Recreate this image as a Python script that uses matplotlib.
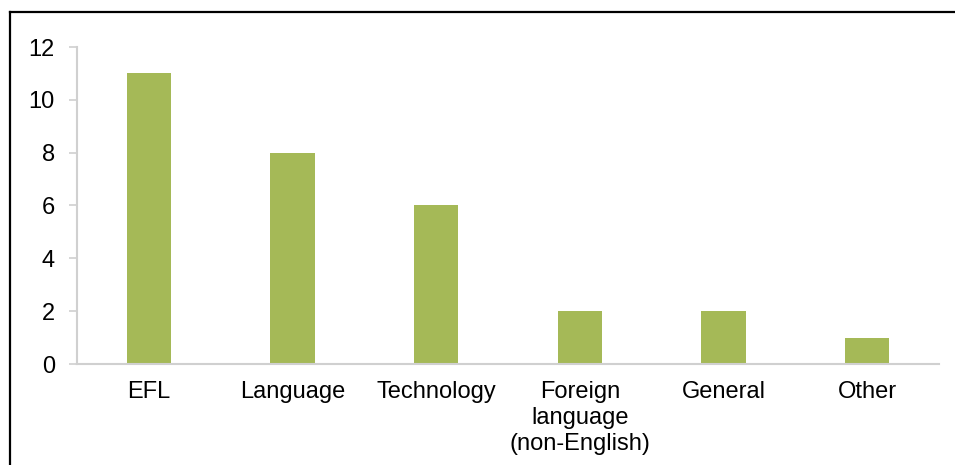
import matplotlib.pyplot as plt
from matplotlib.lines import Line2D

categories = ["EFL", "Language", "Technology", "Foreign\nlanguage\n(non-English)", "General", "Other"]
counts = [11, 8, 6, 2, 2, 1]

plt.rcParams['font.family'] = ['Liberation Sans', 'DejaVu Sans']

W, H = 955, 465
fig = plt.figure(figsize=(W / 100, H / 100), dpi=100)
ax = fig.add_axes([77 / W, 101 / H, (939 - 77) / W, (418 - 101) / H])

x = range(len(categories))
ax.bar(x, counts, width=0.31, color="#a5b957", zorder=2)

ax.set_xlim(-0.5, len(categories) - 0.5)
ax.set_ylim(0, 12)
ax.set_yticks(range(0, 13, 2))
ax.set_xticks(list(x))
ax.set_xticklabels(categories, linespacing=1.24)

for side in ("top", "right"):
    ax.spines[side].set_visible(False)
for side in ("left", "bottom"):
    ax.spines[side].set_color("#d0d0d0")
    ax.spines[side].set_linewidth(1.5)

ax.tick_params(axis="y", length=6, width=1.2, color="#d0d0d0", pad=10,
               labelsize=17, labelcolor="black")
ax.tick_params(axis="x", length=0, pad=12, labelsize=17, labelcolor="black")

# frame lines along the top and left edges
fig.add_artist(Line2D([9.5 / W, 9.5 / W], [0, (H - 12.5) / H], color="black", lw=1.6))
fig.add_artist(Line2D([9.5 / W, 1], [(H - 12.5) / H, (H - 12.5) / H], color="black", lw=1.6))

fig.savefig("out.png", dpi=100)
